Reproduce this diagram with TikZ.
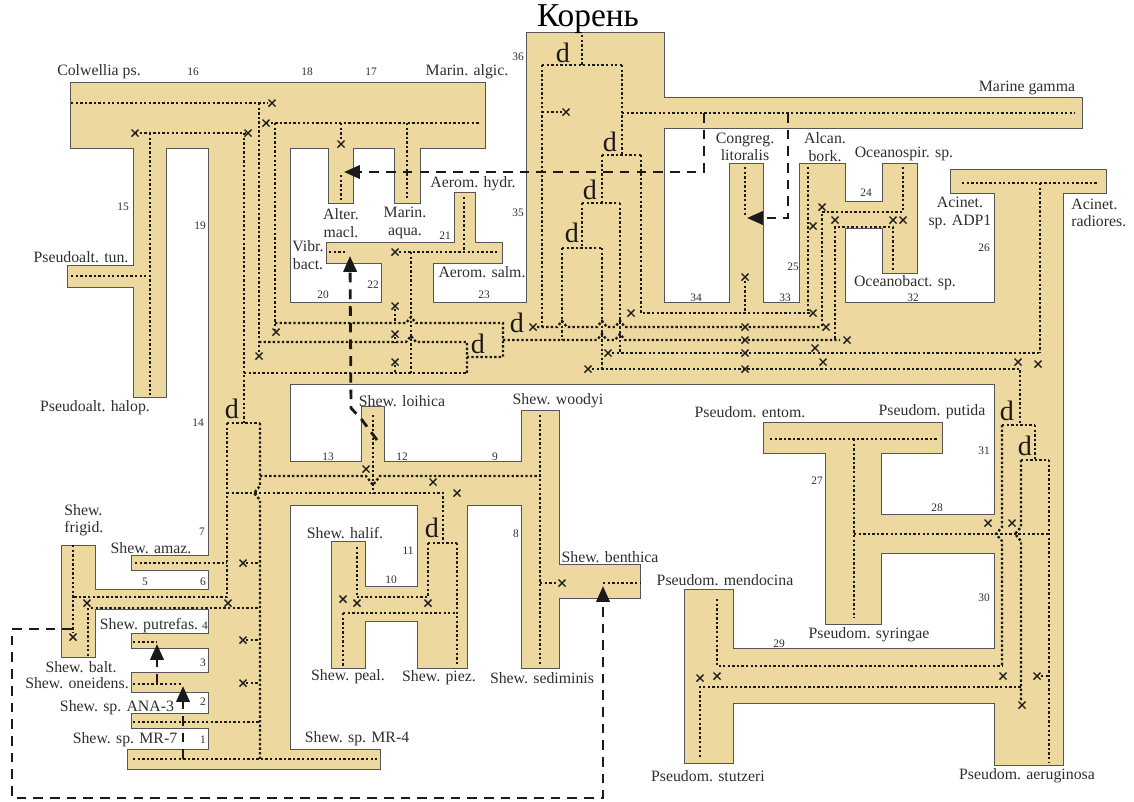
\documentclass[tikz,border=0pt]{standalone}
\usepackage{fontspec}
\setmainfont{Liberation Serif}
\usepackage{tikz}
\usetikzlibrary{arrows.meta}
\definecolor{tubefill}{HTML}{EDD9A0}
\definecolor{tubeline}{HTML}{555555}
\definecolor{geneblack}{HTML}{1A1A1A}
\definecolor{labelgray}{HTML}{2E2E2E}
\tikzstyle{tubeout} = [fill=tubefill, draw=tubeline, line width=1.6pt]
\tikzstyle{tubein} = [fill=tubefill]
\tikzstyle{gene} = [draw=geneblack, line width=1.35pt, dash pattern=on 1.35pt off 1.25pt]
\tikzstyle{lossmark} = [draw=geneblack, line width=0.8pt]
\tikzstyle{transfer} = [draw=geneblack, line width=1.6pt, dash pattern=on 5.5pt off 4pt,
  -{Triangle[length=9pt,width=7.5pt]}]
\tikzstyle{taxon} = [inner sep=0pt, text=labelgray, align=center,
  font=\fontsize{9}{10}\selectfont]
\tikzstyle{branchno} = [inner sep=0pt, text=labelgray, font=\fontsize{6.5}{7}\selectfont]
\tikzstyle{dupl} = [inner sep=0pt, text=geneblack, font=\fontsize{16}{16}\selectfont]
\newcommand{\lossat}[2]{\draw[lossmark] (#1,#2) +(-3.5,-3.5) -- +(3.5,3.5) +(-3.5,3.5) -- +(3.5,-3.5);}
% species tree tubes: x1/y1/x2/y2 in pixels
\def\tubelist{71/83/485/148, 134/148/166/397, 68/266/134/287, 209/148/290/750,
  329/148/353/203, 395/148/420/203, 327/243/502/263, 455/193/475/243,
  382/263/433/303, 290/303/995/384, 527/33/664/303, 664/98/1082/128,
  730/164/763/303, 800/164/845/303, 883/164/917/273, 845/202/883/228,
  951/170/1106/193, 995/193/1063/765, 290/462/559/505, 362/407/384/462,
  522/411/559/668, 559/565/640/598, 418/505/467/668, 365/587/418/621,
  332/542/365/668, 128/750/380/769, 132/556/209/570, 95/590/209/609,
  62/546/95/657, 132/634/209/648, 132/673/209/692, 132/714/209/728,
  764/423/942/453, 826/453/881/624, 881/515/995/553, 685/590/733/763,
  733/649/995/703}

\begin{document}
\begin{tikzpicture}[x=0.02cm, y=-0.02cm]
  \useasboundingbox (0,0) rectangle (1134,802);

  % ── Species tree ──────────────────────────────────────
  \foreach \xa/\ya/\xb/\yb in \tubelist
    \path[tubeout] (\xa,\ya) rectangle (\xb,\yb);
  \foreach \xa/\ya/\xb/\yb in \tubelist
    \path[tubein] (\xa,\ya) rectangle (\xb,\yb);

  % ── Gene tree: Colwellia / Pseudoalteromonas ──────────
  \draw[gene] (71,103) -- (268,103);
  \draw[gene] (259,103) -- (259,352);
  \draw[gene] (259,342) -- (406,342) -- (411,336) -- (416,342) -- (467,342) -- (467,373);
  \draw[gene] (266,123) -- (479,123);
  \draw[gene] (275,123) -- (275,329);
  \draw[gene] (275,323) -- (406,323) -- (411,317) -- (416,323) -- (503,323) -- (503,357) -- (467,357);
  \draw[gene] (341,123) -- (341,140);
  \draw[gene] (407,123) -- (407,198);
  \draw[gene] (135,133) -- (246,133);
  \draw[gene] (150,133) -- (150,395);
  \draw[gene] (71,276) -- (150,276);
  \draw[gene] (244,133) -- (244,423);
  \draw[gene] (244,373) -- (467,373);
  \draw[gene] (341,175) -- (341,200);
  \draw[gene] (329,252) -- (346,252);
  \draw[gene] (399,252) -- (498,252);
  \draw[gene] (464,197) -- (464,252);
  \draw[gene] (411,252) -- (411,373);
  \draw[gene] (395,309) -- (395,323);
  \draw[gene] (395,337) -- (395,342);
  \draw[gene] (395,365) -- (395,373);
  \foreach \px/\py in {272/103, 266/123, 341/144, 135/133, 248/133, 259/356,
                  276/332, 395/252, 395/306, 395/334, 395/362}
    \lossat{\px}{\py};

  % ── Gene tree: root ───────────────────────────────────
  \draw[gene] (582,35) -- (582,65);
  \draw[gene] (542,65) -- (622,65);
  \draw[gene] (542,65) -- (542,327);
  \draw[gene] (542,112) -- (562,112);
  \draw[gene] (622,65) -- (622,155);
  \draw[gene] (622,113) -- (1075,113);
  \draw[gene] (602,155) -- (641,155);
  \draw[gene] (641,155) -- (641,313) -- (810,313);
  \draw[gene] (602,155) -- (602,203);
  \draw[gene] (582,203) -- (620,203);
  \draw[gene] (620,203) -- (620,353);
  \draw[gene] (582,203) -- (582,248);
  \draw[gene] (562,248) -- (602,248);
  \draw[gene] (562,248) -- (562,340);
  \draw[gene] (602,248) -- (602,369);
  \draw[gene] (537,327) -- (557,327) -- (562,321) -- (567,327) -- (597,327) -- (602,321)
    -- (607,327) -- (615,327) -- (620,321) -- (625,327) -- (820,327);
  \draw[gene] (503,340) -- (597,340) -- (602,334) -- (607,340) -- (615,340) -- (620,334)
    -- (625,340) -- (840,340);
  \draw[gene] (612,353) -- (1040,353);
  \draw[gene] (592,369) -- (1020,369) -- (1020,425);
  \foreach \px/\py in {566/112, 533/327, 631/313, 608/353, 588/369}
    \lossat{\px}{\py};

  % ── Gene tree: Congregibacter / Alcanivorax / Oceanospirillum ──
  \draw[gene] (745,167) -- (745,217);
  \draw[gene] (745,281) -- (745,313);
  \draw[gene] (808,167) -- (808,313);
  \draw[gene] (903,167) -- (903,212) -- (822,212) -- (822,327);
  \draw[gene] (893,270) -- (893,227) -- (835,227) -- (835,340);
  \draw[gene] (962,183) -- (1099,183);
  \draw[gene] (1040,183) -- (1040,353);
  \foreach \px/\py in {745/277, 745/327, 745/340, 745/353, 745/369, 813/313, 826/327,
                  847/340, 822/207, 835/220, 893/220, 903/220, 813/226,
                  815/348, 823/362, 1038/364, 1018/362}
    \lossat{\px}{\py};

  % ── Gene tree: Pseudomonas ────────────────────────────
  \draw[gene] (1002,425) -- (1035,425);
  \draw[gene] (1002,425) -- (1002,527) -- (996,534) -- (1002,541) -- (1002,666);
  \draw[gene] (1035,425) -- (1035,460);
  \draw[gene] (1021,460) -- (1049,460);
  \draw[gene] (1021,460) -- (1021,527) -- (1015,534) -- (1021,541) -- (1021,701);
  \draw[gene] (1049,460) -- (1049,763);
  \draw[gene] (854,534) -- (1049,534);
  \draw[gene] (770,439) -- (939,439);
  \draw[gene] (854,439) -- (854,618);
  \draw[gene] (717,599) -- (717,666) -- (1002,666);
  \draw[gene] (700,757) -- (700,687) -- (1021,687);
  \draw[gene] (1041,676) -- (1049,676);
  \foreach \px/\py in {988/523, 1012/523, 717/676, 1003/676, 700/678, 1022/705, 1037/676}
    \lossat{\px}{\py};

  % ── Gene tree: Shewanella ─────────────────────────────
  \draw[gene] (227,423) -- (260,423);
  \draw[gene] (227,423) -- (227,597) -- (73,597);
  \draw[gene] (73,545) -- (73,633);
  \draw[gene] (135,563) -- (227,563);
  \draw[gene] (91,608) -- (259,608);
  \draw[gene] (88,608) -- (88,657);
  \draw[gene] (246,563) -- (259,563);
  \draw[gene] (246,640) -- (259,640);
  \draw[gene] (246,683) -- (259,683);
  \draw[gene] (133,642) -- (157,642);
  \draw[gene] (133,684) -- (183,684);
  \draw[gene] (133,722) -- (259,722);
  \draw[gene] (133,759) -- (378,759);
  \draw[gene] (260,423) -- (260,486) -- (254,493) -- (260,500) -- (260,759);
  \draw[gene] (260,476) -- (366,476) -- (373,485) -- (380,476) -- (540,476);
  \draw[gene] (373,415) -- (373,493);
  \draw[gene] (227,493) -- (443,493) -- (443,543);
  \draw[gene] (428,543) -- (457,543);
  \draw[gene] (428,543) -- (428,597) -- (357,597);
  \draw[gene] (357,547) -- (357,597);
  \draw[gene] (343,613) -- (457,613);
  \draw[gene] (457,543) -- (457,666);
  \draw[gene] (343,613) -- (343,666);
  \draw[gene] (540,415) -- (540,666);
  \draw[gene] (540,583) -- (558,583);
  \draw[gene] (603,583) -- (640,583);
  \foreach \px/\py in {73/637, 228/603, 87/603, 243/563, 243/640, 243/683, 366/469,
                  433/482, 457/493, 428/603, 343/599, 357/603, 562/583}
    \lossat{\px}{\py};

  % ── Duplications ──────────────────────────────────────
  \node[dupl] (d1) at (563,53) {d};
  \node[dupl] (d2) at (610,142) {d};
  \node[dupl] (d3) at (590,190) {d};
  \node[dupl] (d4) at (572,233) {d};
  \node[dupl] (d5) at (517,323) {d};
  \node[dupl] (d6) at (478,344) {d};
  \node[dupl] (d7) at (232,409) {d};
  \node[dupl] (d8) at (432,528) {d};
  \node[dupl] (d9) at (1007,411) {d};
  \node[dupl] (d10) at (1025,446) {d};

  % ── Transfers ─────────────────────────────────────────
  \draw[transfer] (704,113) -- (704,172) -- (344,172);
  \draw[transfer] (788,113) -- (788,218) -- (747,218);
  \draw[transfer] (377,440) -- (362,420) -- (351,408) -- (350,256);
  \draw[transfer] (72,629) -- (12,629) -- (12,798) -- (603,798) -- (603,586);
  \draw[transfer] (183,759) -- (183,686);
  \draw[transfer] (157,684) -- (157,644);

  % ── Taxa ──────────────────────────────────────────────
  \node[font=\fontsize{19}{19}\selectfont, inner sep=0pt] (koren) at (588,19) {Корень};
  \node[taxon] (colw) at (99,72) {Colwellia ps.};
  \node[taxon] (malg) at (467,72) {Marin. algic.};
  \node[taxon] (mgam) at (1027,88) {Marine gamma};
  \node[taxon] (ptun) at (81,257) {Pseudoalt. tun.};
  \node[taxon] (phal) at (95,408) {Pseudoalt. halop.};
  \node[taxon] (alter) at (341,223) {Alter.\\macl.};
  \node[taxon] (maqua) at (405,223) {Marin.\\aqua.};
  \node[taxon] (vibr) at (308,255) {Vibr.\\bact.};
  \node[taxon] (ahydr) at (473,184) {Aerom. hydr.};
  \node[taxon] (asalm) at (482,272) {Aerom. salm.};
  \node[taxon] (congr) at (745,147) {Congreg.\\litoralis};
  \node[taxon] (alcan) at (825,147) {Alcan.\\bork.};
  \node[taxon] (ospir) at (904,154) {Oceanospir. sp.};
  \node[taxon] (adp) at (960,213) {Acinet.\\sp. ADP1};
  \node[taxon, anchor=west, align=left] (arad) at (1071,213) {Acinet.\\radiores.};
  \node[taxon] (obact) at (905,283) {Oceanobact. sp.};
  \node[taxon] (loih) at (402,401) {Shew. loihica};
  \node[taxon] (wood) at (558,401) {Shew. woodyi};
  \node[taxon, anchor=west, align=left] (frig) at (64,520) {Shew.\\frigid.};
  \node[taxon] (amaz) at (151,548) {Shew. amaz.};
  \node[taxon] (putr) at (149,626) {Shew. putrefas.};
  \node[taxon] (balt) at (81,667) {Shew. balt.};
  \node[taxon] (oneid) at (77,683) {Shew. oneidens.};
  \node[taxon] (ana) at (117,708) {Shew. sp. ANA-3};
  \node[taxon] (mr7) at (125,740) {Shew. sp. MR-7};
  \node[taxon] (mr4) at (357,739) {Shew. sp. MR-4};
  \node[taxon] (halif) at (345,533) {Shew. halif.};
  \node[taxon] (peal) at (348,677) {Shew. peal.};
  \node[taxon] (piez) at (439,678) {Shew. piez.};
  \node[taxon] (sedim) at (542,678) {Shew. sediminis};
  \node[taxon] (benth) at (610,557) {Shew. benthica};
  \node[taxon] (pent) at (750,412) {Pseudom. entom.};
  \node[taxon] (pput) at (932,412) {Pseudom. putida};
  \node[taxon] (pmend) at (725,580) {Pseudom. mendocina};
  \node[taxon] (psyr) at (869,635) {Pseudom. syringae};
  \node[taxon] (pstu) at (708,776) {Pseudom. stutzeri};
  \node[taxon] (paer) at (1027,776) {Pseudom. aeruginosa};

  % ── Branch numbers ────────────────────────────────────
  \foreach \lbl/\bx/\by in {36/518/57, 16/193/72, 18/307/72, 17/371/72, 15/123/207,
      19/200/226, 35/518/213, 21/445/236, 22/373/285, 20/323/295, 23/484/295,
      34/696/298, 33/785/298, 32/913/298, 25/793/267, 26/984/248, 24/866/193,
      13/328/457, 12/402/457, 9/495/457, 14/198/423, 7/202/532, 5/145/582,
      6/203/582, 4/205/626, 3/203/663, 2/203/702, 1/203/740, 11/408/551,
      10/391/580, 8/516/534, 31/984/451, 27/817/481, 28/937/508, 30/984/598,
      29/779/644}
    \node[branchno] (n\lbl) at (\bx,\by) {\lbl};

\end{tikzpicture}
\end{document}
